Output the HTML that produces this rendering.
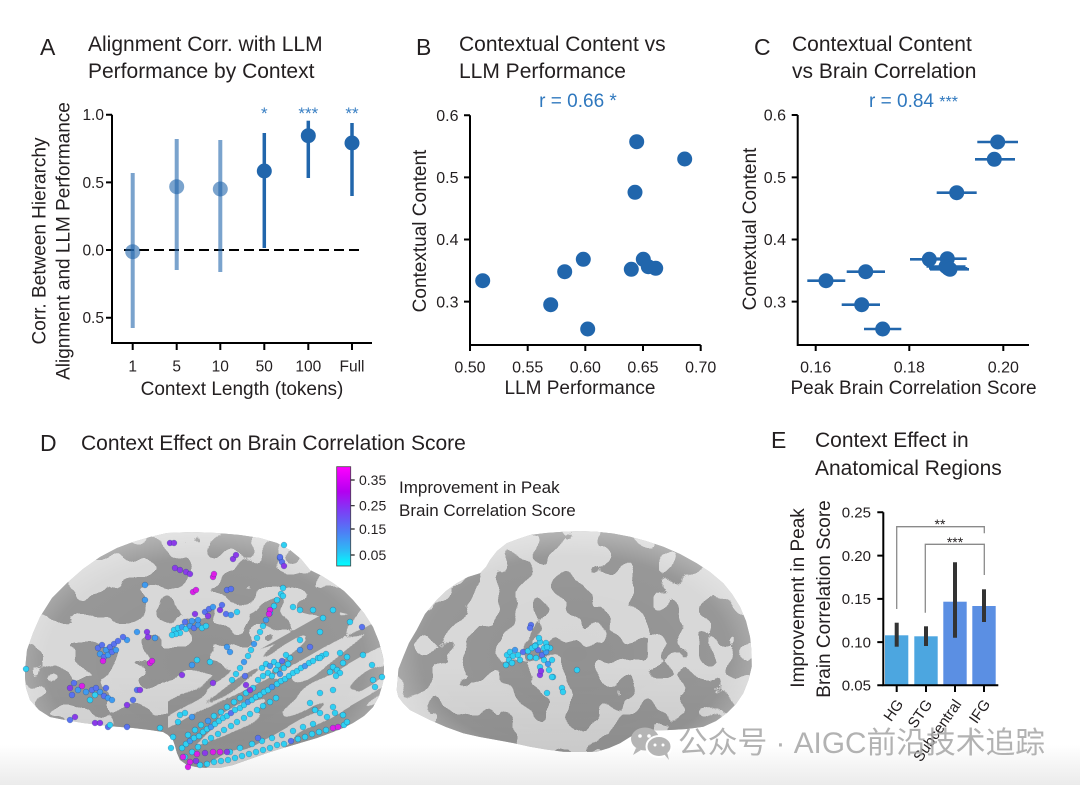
<!DOCTYPE html>
<html><head><meta charset="utf-8"><style>
html,body{margin:0;padding:0;background:#fff;overflow:hidden;width:1080px;height:785px}
svg{display:block}
text{fill:#231f20}
.c{fill:#2fd0f2}.b{fill:#3f9bf0}.m{fill:#5a72ef}.p{fill:#8c3ae8}.g{fill:#dd1ee6}
.dots circle{stroke:rgba(0,50,110,.35);stroke-width:.6}
</style></head><body>
<svg width="1080" height="785" viewBox="0 0 1080 785" font-family="'Liberation Sans', sans-serif">
<defs>
<linearGradient id="band" x1="0" y1="0" x2="0" y2="1"><stop offset="0" stop-color="#fff"/><stop offset="1" stop-color="#ebebeb"/></linearGradient>
<linearGradient id="cbar" x1="0" y1="0" x2="0" y2="1">
<stop offset="0" stop-color="#ff00ff"/><stop offset=".25" stop-color="#b400f0"/><stop offset=".45" stop-color="#7a40f5"/><stop offset=".65" stop-color="#4f7cf5"/><stop offset=".85" stop-color="#2cbdf5"/><stop offset="1" stop-color="#00ffff"/></linearGradient>
<radialGradient id="shade" cx=".5" cy=".55" r=".6"><stop offset="0" stop-color="#fff" stop-opacity="0"/><stop offset=".7" stop-color="#fff" stop-opacity=".06"/><stop offset="1" stop-color="#fff" stop-opacity=".5"/></radialGradient>
<linearGradient id="vshade" x1="0" y1="0" x2="0" y2="1"><stop offset="0" stop-color="#000" stop-opacity="0"/><stop offset=".6" stop-color="#000" stop-opacity="0"/><stop offset="1" stop-color="#000" stop-opacity=".08"/></linearGradient>
<filter id="sulc1" color-interpolation-filters="sRGB">
<feTurbulence type="fractalNoise" baseFrequency="0.028 0.034" numOctaves="2" seed="7"/>
<feColorMatrix type="matrix" values="1 0 0 0 0 1 0 0 0 0 1 0 0 0 0 0 0 0 0 1"/>
<feComponentTransfer><feFuncR type="discrete" tableValues="0.57 0.84"/><feFuncG type="discrete" tableValues="0.57 0.84"/><feFuncB type="discrete" tableValues="0.57 0.84"/></feComponentTransfer>
</filter>
<filter id="sulc2" color-interpolation-filters="sRGB">
<feTurbulence type="fractalNoise" baseFrequency="0.03 0.028" numOctaves="2" seed="21"/>
<feColorMatrix type="matrix" values="1 0 0 0 0 1 0 0 0 0 1 0 0 0 0 0 0 0 0 1"/>
<feComponentTransfer><feFuncR type="discrete" tableValues="0.57 0.84"/><feFuncG type="discrete" tableValues="0.57 0.84"/><feFuncB type="discrete" tableValues="0.57 0.84"/></feComponentTransfer>
</filter>
<filter id="sulc3" x="0" y="0" width="1" height="1" color-interpolation-filters="sRGB">
<feTurbulence type="fractalNoise" baseFrequency="0.012 0.055" numOctaves="2" seed="4"/>
<feColorMatrix type="matrix" values="1 0 0 0 0 1 0 0 0 0 1 0 0 0 0 0 0 0 0 1"/>
<feComponentTransfer><feFuncR type="discrete" tableValues="0.57 0.84"/><feFuncG type="discrete" tableValues="0.57 0.84"/><feFuncB type="discrete" tableValues="0.57 0.84"/></feComponentTransfer>
</filter>
<pattern id="tpat" patternUnits="userSpaceOnUse" x="130" y="630" width="300" height="200" patternTransform="rotate(-30 280 690)">
<rect x="0" y="0" width="300" height="200" filter="url(#sulc3)"/>
</pattern>
<clipPath id="lb"><path d="M25,670 L27,650 L33,633 L40,617 L52,598 L67,583 L83,569 L100,557 L117,548 L133,542 L150,537 L167,533 L192,532 L217,533 L240,535 L260,538 L277,543 L290,550 L301,559 L310,570 L322,576 L333,583 L344,591 L353,600 L364,613 L373,627 L379,642 L383,657 L384,670 L383,683 L379,696 L373,707 L364,716 L353,723 L343,728 L333,732 L317,738 L300,743 L283,748 L267,753 L250,759 L233,765 L220,768 L207,768 L196,767 L187,765 L180,760 L177,753 L175,746 L173,740 L168,735 L163,732 L150,730 L133,728 L108,726 L83,723 L65,720 L50,717 L39,710 L30,700 L26,688 L25,677 Z"/></clipPath>
<clipPath id="rb"><path d="M396.7,690 L398.3,696.7 L403,703 L410,710 L420,715 L430,720 L446,727 L463.3,733.3 L480,737 L496.7,740 L513,743 L530,746.7 L546,749.5 L563.3,751.7 L580,752 L596.7,751.7 L609,748 L620,743.3 L630,737 L640,731.7 L655,730.5 L670,730 L687,729 L703.3,726.7 L716,721 L726.7,713.3 L736,704 L743.3,693.3 L748.5,680 L751.7,666.7 L751.5,651 L750,636.7 L746,621 L740,606.7 L732,594 L723.3,583.3 L710,572 L696.7,563.3 L680,554 L663.3,546.7 L646,541 L630,536.7 L613,533.5 L596.7,531.7 L580,531 L563.3,531.7 L546,533 L530,535 L518,539 L506.7,543.3 L497,551 L490,560 L486,567 L480,573.3 L468,577 L456.7,583.3 L446,591 L436.7,600 L425,614 L416.7,630 L409,643 L403.3,656.7 L398.5,669 Z"/></clipPath>
</defs>

<rect x="0" y="745" width="1080" height="40" fill="url(#band)"/>

<!-- ===== Panel A ===== -->
<text x="40" y="55" font-size="23">A</text>
<text x="88" y="51" font-size="21">Alignment Corr. with LLM</text>
<text x="88" y="78" font-size="21">Performance by Context</text>
<g stroke="#000" stroke-width="2" fill="none">
<path d="M112 114.7 V343 H372"/>
<path d="M106 114.7H112M106 182.4H112M106 250H112M106 317.7H112"/>
<path d="M132.7 343V350M176.7 343V350M220.3 343V350M264.3 343V350M308.3 343V350M352 343V350"/>
</g>
<g font-size="15.5" text-anchor="end">
<text x="104" y="120.2">1.0</text><text x="104" y="187.9">0.5</text><text x="104" y="255.5">0.0</text><text x="104" y="323.2">0.5</text>
</g>
<g font-size="15.5" text-anchor="middle">
<text x="132.7" y="371.5">1</text><text x="176.7" y="371.5">5</text><text x="220.3" y="371.5">10</text><text x="264.3" y="371.5">50</text><text x="308.3" y="371.5">100</text><text x="352" y="371.5">Full</text>
</g>
<line x1="124" y1="250" x2="364" y2="250" stroke="#000" stroke-width="2" stroke-dasharray="10 5"/>
<g stroke="#2166ac" stroke-width="4" stroke-opacity=".6">
<line x1="132.7" y1="173" x2="132.7" y2="328"/><line x1="176.7" y1="139" x2="176.7" y2="270"/><line x1="220.3" y1="140" x2="220.3" y2="272"/>
</g>
<g fill="#2166ac" fill-opacity=".6">
<circle cx="132.7" cy="251.7" r="7.5"/><circle cx="176.7" cy="186.7" r="7.5"/><circle cx="220.3" cy="189" r="7.5"/>
</g>
<g stroke="#2166ac" stroke-width="3.5">
<line x1="264.3" y1="133" x2="264.3" y2="248"/><line x1="308.3" y1="120.7" x2="308.3" y2="178"/><line x1="352" y1="123" x2="352" y2="196"/>
</g>
<g fill="#2166ac">
<circle cx="264.3" cy="171" r="7.5"/><circle cx="308.3" cy="135.7" r="7.5"/><circle cx="352" cy="143" r="7.5"/>
</g>
<g font-size="17" text-anchor="middle">
<text x="264.3" y="119" style="fill:#3a80c4">*</text><text x="308.3" y="119" style="fill:#3a80c4">***</text><text x="352" y="119" style="fill:#3a80c4">**</text>
</g>
<text transform="translate(45.5,241) rotate(-90)" text-anchor="middle" font-size="19">Corr. Between Hierarchy</text>
<text transform="translate(69.5,241) rotate(-90)" text-anchor="middle" font-size="19">Alignment and LLM Performance</text>
<text x="242" y="395" text-anchor="middle" font-size="19">Context Length (tokens)</text>

<!-- ===== Panel B ===== -->
<text x="416" y="55" font-size="23">B</text>
<text x="459" y="51" font-size="21">Contextual Content vs</text>
<text x="459" y="78" font-size="21">LLM Performance</text>
<text x="578" y="107" text-anchor="middle" font-size="19" style="fill:#2f78be">r = 0.66 *</text>
<g stroke="#000" stroke-width="2" fill="none">
<path d="M470 115.3 V345 H700.7"/>
<path d="M464 115.3H470M464 177.4H470M464 239.5H470M464 301.6H470"/>
<path d="M470 345V351M527.7 345V351M585.3 345V351M643 345V351M700.7 345V351"/>
</g>
<g font-size="16" text-anchor="end">
<text x="458.5" y="121">0.6</text><text x="458.5" y="183.1">0.5</text><text x="458.5" y="245.2">0.4</text><text x="458.5" y="307.3">0.3</text>
</g>
<g font-size="16" text-anchor="middle">
<text x="470" y="372.5">0.50</text><text x="527.7" y="372.5">0.55</text><text x="585.3" y="372.5">0.60</text><text x="643" y="372.5">0.65</text><text x="700.7" y="372.5">0.70</text>
</g>
<g fill="#2166ac">
<circle cx="636.7" cy="141.7" r="7.5"/><circle cx="684.7" cy="159" r="7.5"/><circle cx="635" cy="192.3" r="7.5"/>
<circle cx="482.7" cy="280.7" r="7.5"/><circle cx="550.7" cy="304.7" r="7.5"/><circle cx="564.7" cy="271.7" r="7.5"/>
<circle cx="583.3" cy="259.3" r="7.5"/><circle cx="587.7" cy="329" r="7.5"/><circle cx="631.3" cy="269.3" r="7.5"/>
<circle cx="643.3" cy="259.3" r="7.5"/><circle cx="648.3" cy="266.7" r="7.5"/><circle cx="655.7" cy="268.3" r="7.5"/>
</g>
<text transform="translate(426,231) rotate(-90)" text-anchor="middle" font-size="19">Contextual Content</text>
<text x="580" y="394" text-anchor="middle" font-size="19">LLM Performance</text>

<!-- ===== Panel C ===== -->
<text x="754" y="55" font-size="23">C</text>
<text x="792" y="51" font-size="21">Contextual Content</text>
<text x="792" y="78" font-size="21">vs Brain Correlation</text>
<text x="913.5" y="107" text-anchor="middle" font-size="19" style="fill:#2f78be">r = 0.84 <tspan font-size="16" style="fill:#2f78be">***</tspan></text>
<g stroke="#000" stroke-width="2" fill="none">
<path d="M797.7 115 V345 H1029"/>
<path d="M791.7 115H797.7M791.7 177.4H797.7M791.7 239.5H797.7M791.7 301.6H797.7"/>
<path d="M815.7 345V351M909.3 345V351M1003.3 345V351"/>
</g>
<g font-size="16" text-anchor="end">
<text x="786" y="120.7">0.6</text><text x="786" y="183.1">0.5</text><text x="786" y="245.2">0.4</text><text x="786" y="307.3">0.3</text>
</g>
<g font-size="16" text-anchor="middle">
<text x="815.7" y="372.5">0.16</text><text x="909.3" y="372.5">0.18</text><text x="1003.3" y="372.5">0.20</text>
</g>
<g stroke="#2166ac" stroke-width="2.6">
<line x1="977.3" y1="142" x2="1018" y2="142"/><line x1="975" y1="159.3" x2="1015" y2="159.3"/><line x1="936.7" y1="192.7" x2="976.7" y2="192.7"/>
<line x1="807.3" y1="280.7" x2="845.3" y2="280.7"/><line x1="846.7" y1="271.7" x2="885" y2="271.7"/><line x1="841.7" y1="304.7" x2="880" y2="304.7"/>
<line x1="864" y1="329" x2="901.3" y2="329"/><line x1="910" y1="259.3" x2="948.3" y2="259.3"/><line x1="928.3" y1="258.7" x2="966.7" y2="258.7"/>
<line x1="929" y1="268.3" x2="967.3" y2="268.3"/><line x1="926.5" y1="266.5" x2="965.5" y2="266.5"/><line x1="930" y1="269.3" x2="969" y2="269.3"/>
</g>
<g fill="#2166ac">
<circle cx="997.7" cy="142" r="7.5"/><circle cx="994.3" cy="159.3" r="7.5"/><circle cx="956.7" cy="192.7" r="7.5"/>
<circle cx="826" cy="280.7" r="7.5"/><circle cx="865.7" cy="271.7" r="7.5"/><circle cx="861.7" cy="304.7" r="7.5"/>
<circle cx="882.7" cy="329" r="7.5"/><circle cx="929.3" cy="259.3" r="7.5"/><circle cx="947.3" cy="258.7" r="7.5"/>
<circle cx="948.3" cy="268.3" r="7.5"/><circle cx="946" cy="266.5" r="7.5"/><circle cx="950" cy="269.3" r="7.5"/>
</g>
<text transform="translate(756,229) rotate(-90)" text-anchor="middle" font-size="19">Contextual Content</text>
<text x="913.5" y="394" text-anchor="middle" font-size="19">Peak Brain Correlation Score</text>

<!-- ===== Panel D ===== -->
<text x="40" y="451" font-size="23">D</text>
<text x="81" y="450" font-size="21">Context Effect on Brain Correlation Score</text>

<g clip-path="url(#lb)">
<rect x="15" y="525" width="380" height="250" fill="#b5b5b5"/>
<rect x="15" y="525" width="380" height="250" filter="url(#sulc1)"/>
<path d="M168,772 L168,700 L250,655 L330,610 L395,625 L395,772 Z" fill="url(#tpat)"/>
<rect x="15" y="525" width="380" height="250" fill="url(#vshade)"/>
<rect x="15" y="525" width="380" height="250" fill="url(#shade)"/>
</g>
<g clip-path="url(#rb)">
<rect x="390" y="525" width="370" height="235" fill="#b5b5b5"/>
<rect x="390" y="525" width="370" height="235" filter="url(#sulc2)"/>
<rect x="390" y="525" width="370" height="235" fill="url(#vshade)"/>
<rect x="390" y="525" width="370" height="235" fill="url(#shade)"/>
</g>

<g class="dots">
<circle class="c" cx="182" cy="748" r="2.9"/><circle class="c" cx="186" cy="744" r="2.9"/><circle class="b" cx="190" cy="741" r="2.9"/><circle class="c" cx="194" cy="738" r="2.9"/><circle class="c" cx="199" cy="736" r="2.9"/><circle class="c" cx="203" cy="732" r="2.9"/><circle class="c" cx="207" cy="729" r="2.9"/><circle class="b" cx="211" cy="727" r="2.9"/><circle class="c" cx="215" cy="724" r="2.9"/><circle class="c" cx="219" cy="721" r="2.9"/><circle class="c" cx="223" cy="718" r="2.9"/><circle class="c" cx="227" cy="716" r="2.9"/><circle class="m" cx="231" cy="713" r="2.9"/><circle class="c" cx="235" cy="710" r="2.9"/><circle class="c" cx="240" cy="708" r="2.9"/><circle class="c" cx="244" cy="705" r="2.9"/><circle class="b" cx="248" cy="702" r="2.9"/><circle class="c" cx="252" cy="700" r="2.9"/><circle class="c" cx="256" cy="697" r="2.9"/><circle class="c" cx="260" cy="695" r="2.9"/><circle class="c" cx="264" cy="692" r="2.9"/><circle class="c" cx="268" cy="690" r="2.9"/><circle class="b" cx="272" cy="687" r="2.9"/><circle class="c" cx="277" cy="684" r="2.9"/><circle class="c" cx="281" cy="681" r="2.9"/><circle class="c" cx="285" cy="679" r="2.9"/><circle class="c" cx="289" cy="676" r="2.9"/><circle class="c" cx="293" cy="673" r="2.9"/><circle class="c" cx="297" cy="671" r="2.9"/><circle class="c" cx="301" cy="668" r="2.9"/><circle class="b" cx="305" cy="666" r="2.9"/><circle class="c" cx="309" cy="663" r="2.9"/><circle class="c" cx="313" cy="661" r="2.9"/><circle class="c" cx="318" cy="658" r="2.9"/><circle class="c" cx="322" cy="656" r="2.9"/><circle class="c" cx="326" cy="654" r="2.9"/>
<circle class="c" cx="185" cy="757" r="2.9"/><circle class="c" cx="192" cy="752" r="2.9"/><circle class="c" cx="198" cy="747" r="2.9"/><circle class="c" cx="205" cy="742" r="2.9"/><circle class="c" cx="211" cy="738" r="2.9"/><circle class="c" cx="218" cy="734" r="2.9"/><circle class="c" cx="224" cy="730" r="2.9"/><circle class="c" cx="231" cy="726" r="2.9"/><circle class="c" cx="237" cy="722" r="2.9"/><circle class="c" cx="244" cy="718" r="2.9"/><circle class="c" cx="250" cy="714" r="2.9"/><circle class="c" cx="257" cy="710" r="2.9"/><circle class="c" cx="263" cy="706" r="2.9"/><circle class="c" cx="270" cy="702" r="2.9"/><circle class="c" cx="276" cy="698" r="2.9"/>
<circle class="c" cx="188" cy="735" r="2.9"/><circle class="c" cx="195" cy="730" r="2.9"/><circle class="c" cx="201" cy="725" r="2.9"/><circle class="b" cx="208" cy="721" r="2.9"/><circle class="c" cx="214" cy="716" r="2.9"/><circle class="c" cx="221" cy="712" r="2.9"/><circle class="c" cx="227" cy="707" r="2.9"/><circle class="c" cx="234" cy="702" r="2.9"/><circle class="c" cx="240" cy="698" r="2.9"/><circle class="c" cx="246" cy="693" r="2.9"/><circle class="c" cx="253" cy="688" r="2.9"/>
<circle class="c" cx="200" cy="765" r="2.9"/><circle class="c" cx="207" cy="764" r="2.9"/><circle class="c" cx="214" cy="762" r="2.9"/><circle class="c" cx="221" cy="761" r="2.9"/><circle class="c" cx="228" cy="760" r="2.9"/><circle class="c" cx="235" cy="758" r="2.9"/><circle class="c" cx="242" cy="756" r="2.9"/><circle class="c" cx="249" cy="754" r="2.9"/><circle class="c" cx="256" cy="752" r="2.9"/><circle class="c" cx="263" cy="750" r="2.9"/><circle class="c" cx="270" cy="748" r="2.9"/><circle class="c" cx="277" cy="745" r="2.9"/><circle class="c" cx="284" cy="744" r="2.9"/><circle class="m" cx="291" cy="741" r="2.9"/><circle class="c" cx="298" cy="739" r="2.9"/><circle class="c" cx="305" cy="737" r="2.9"/><circle class="c" cx="312" cy="734" r="2.9"/><circle class="c" cx="319" cy="732" r="2.9"/><circle class="c" cx="326" cy="730" r="2.9"/><circle class="g" cx="333" cy="728" r="2.9"/><circle class="g" cx="338" cy="727" r="2.9"/><circle class="c" cx="344" cy="725" r="2.9"/>
<circle class="c" cx="240" cy="748" r="2.9"/><circle class="c" cx="252" cy="744" r="2.9"/><circle class="c" cx="262" cy="741" r="2.9"/><circle class="c" cx="272" cy="738" r="2.9"/><circle class="c" cx="282" cy="735" r="2.9"/><circle class="c" cx="293" cy="731" r="2.9"/><circle class="c" cx="303" cy="727" r="2.9"/><circle class="c" cx="313" cy="724" r="2.9"/><circle class="m" cx="258" cy="738" r="2.9"/><circle class="c" cx="230" cy="752" r="2.9"/>
<circle class="g" cx="183" cy="757" r="2.9"/><circle class="g" cx="190" cy="762" r="2.9"/><circle class="g" cx="197" cy="754" r="2.9"/><circle class="p" cx="205" cy="753" r="2.9"/><circle class="g" cx="213" cy="752" r="2.9"/><circle class="g" cx="220" cy="752" r="2.9"/><circle class="p" cx="227" cy="752" r="2.9"/><circle class="g" cx="188" cy="767" r="2.9"/><circle class="p" cx="196" cy="761" r="2.9"/>
<circle class="c" cx="262" cy="668" r="2.9"/><circle class="c" cx="266" cy="664" r="2.9"/><circle class="b" cx="270" cy="666" r="2.9"/><circle class="c" cx="274" cy="662" r="2.9"/><circle class="c" cx="278" cy="665" r="2.9"/><circle class="m" cx="282" cy="661" r="2.9"/><circle class="c" cx="276" cy="670" r="2.9"/><circle class="c" cx="268" cy="673" r="2.9"/><circle class="c" cx="284" cy="668" r="2.9"/><circle class="c" cx="288" cy="664" r="2.9"/><circle class="b" cx="280" cy="674" r="2.9"/><circle class="c" cx="272" cy="676" r="2.9"/><circle class="c" cx="290" cy="658" r="2.9"/><circle class="c" cx="286" cy="655" r="2.9"/><circle class="c" cx="263" cy="676" r="2.9"/><circle class="c" cx="258" cy="680" r="2.9"/>
<circle class="c" cx="232" cy="680" r="2.9"/><circle class="c" cx="236" cy="674" r="2.9"/><circle class="c" cx="240" cy="668" r="2.9"/><circle class="b" cx="244" cy="662" r="2.9"/><circle class="c" cx="248" cy="656" r="2.9"/><circle class="c" cx="251" cy="650" r="2.9"/><circle class="b" cx="254" cy="644" r="2.9"/><circle class="c" cx="257" cy="638" r="2.9"/><circle class="c" cx="260" cy="632" r="2.9"/><circle class="c" cx="263" cy="626" r="2.9"/><circle class="b" cx="266" cy="620" r="2.9"/><circle class="c" cx="270" cy="613" r="2.9"/><circle class="c" cx="274" cy="606" r="2.9"/><circle class="c" cx="277" cy="600" r="2.9"/><circle class="c" cx="281" cy="594" r="2.9"/><circle class="c" cx="283" cy="588" r="2.9"/><circle class="m" cx="245" cy="676" r="2.9"/><circle class="p" cx="250" cy="690" r="2.9"/><circle class="p" cx="246" cy="685" r="2.9"/>
<circle class="c" cx="174" cy="630" r="2.9"/><circle class="c" cx="178" cy="628" r="2.9"/><circle class="b" cx="182" cy="627" r="2.9"/><circle class="c" cx="186" cy="629" r="2.9"/><circle class="b" cx="190" cy="626" r="2.9"/><circle class="m" cx="194" cy="628" r="2.9"/><circle class="b" cx="198" cy="625" r="2.9"/><circle class="c" cx="202" cy="628" r="2.9"/><circle class="c" cx="206" cy="626" r="2.9"/><circle class="m" cx="185" cy="622" r="2.9"/><circle class="b" cx="192" cy="621" r="2.9"/><circle class="b" cx="198" cy="620" r="2.9"/><circle class="c" cx="180" cy="633" r="2.9"/><circle class="c" cx="176" cy="634" r="2.9"/><circle class="c" cx="172" cy="635" r="2.9"/>
<circle class="m" cx="205" cy="612" r="2.9"/><circle class="m" cx="209" cy="609" r="2.9"/><circle class="b" cx="213" cy="607" r="2.9"/><circle class="p" cx="208" cy="616" r="2.9"/><circle class="p" cx="220" cy="610" r="2.9"/><circle class="m" cx="226" cy="614" r="2.9"/><circle class="b" cx="231" cy="615" r="2.9"/><circle class="c" cx="237" cy="612" r="2.9"/><circle class="m" cx="222" cy="605" r="2.9"/><circle class="p" cx="195" cy="614" r="2.9"/>
<circle class="p" cx="170" cy="543" r="2.9"/><circle class="p" cx="174" cy="543" r="2.9"/><circle class="p" cx="175" cy="568" r="2.9"/><circle class="p" cx="180" cy="570" r="2.9"/><circle class="p" cx="186" cy="572" r="2.9"/><circle class="p" cx="190" cy="574" r="2.9"/><circle class="g" cx="193" cy="592" r="2.9"/><circle class="g" cx="196" cy="590" r="2.9"/><circle class="g" cx="213" cy="577" r="2.9"/><circle class="g" cx="214" cy="574" r="2.9"/><circle class="p" cx="233" cy="559" r="2.9"/><circle class="p" cx="236" cy="555" r="2.9"/><circle class="m" cx="227" cy="590" r="2.9"/><circle class="m" cx="231" cy="589" r="2.9"/><circle class="g" cx="270" cy="610" r="2.9"/><circle class="g" cx="269" cy="614" r="2.9"/><circle class="m" cx="280" cy="558" r="2.9"/><circle class="m" cx="282" cy="562" r="2.9"/><circle class="p" cx="284" cy="566" r="2.9"/><circle class="c" cx="284" cy="545" r="2.9"/><circle class="b" cx="145" cy="585" r="2.9"/><circle class="b" cx="145" cy="600" r="2.9"/>
<circle class="b" cx="127" cy="640" r="2.9"/><circle class="b" cx="137" cy="632" r="2.9"/><circle class="p" cx="147" cy="632" r="2.9"/><circle class="p" cx="148" cy="637" r="2.9"/><circle class="b" cx="155" cy="638" r="2.9"/><circle class="g" cx="150" cy="663" r="2.9"/><circle class="g" cx="152" cy="661" r="2.9"/>
<circle class="m" cx="98" cy="648" r="2.9"/><circle class="m" cx="102" cy="645" r="2.9"/><circle class="b" cx="106" cy="650" r="2.9"/><circle class="m" cx="110" cy="647" r="2.9"/><circle class="m" cx="114" cy="644" r="2.9"/><circle class="b" cx="100" cy="654" r="2.9"/><circle class="m" cx="104" cy="657" r="2.9"/><circle class="b" cx="108" cy="655" r="2.9"/><circle class="m" cx="112" cy="652" r="2.9"/><circle class="b" cx="116" cy="650" r="2.9"/><circle class="g" cx="103" cy="661" r="2.9"/><circle class="m" cx="118" cy="641" r="2.9"/><circle class="m" cx="123" cy="637" r="2.9"/>
<circle class="p" cx="70" cy="688" r="2.9"/><circle class="m" cx="74" cy="683" r="2.9"/><circle class="b" cx="78" cy="690" r="2.9"/><circle class="g" cx="82" cy="686" r="2.9"/><circle class="b" cx="86" cy="692" r="2.9"/><circle class="m" cx="92" cy="690" r="2.9"/><circle class="c" cx="95" cy="695" r="2.9"/><circle class="b" cx="100" cy="692" r="2.9"/><circle class="m" cx="104" cy="696" r="2.9"/><circle class="b" cx="108" cy="698" r="2.9"/><circle class="b" cx="112" cy="700" r="2.9"/><circle class="m" cx="72" cy="695" r="2.9"/><circle class="c" cx="90" cy="700" r="2.9"/><circle class="m" cx="96" cy="688" r="2.9"/><circle class="m" cx="106" cy="688" r="2.9"/>
<circle class="m" cx="70" cy="720" r="2.9"/><circle class="p" cx="75" cy="717" r="2.9"/><circle class="p" cx="95" cy="723" r="2.9"/><circle class="p" cx="100" cy="723" r="2.9"/><circle class="m" cx="108" cy="727" r="2.9"/><circle class="m" cx="127" cy="727" r="2.9"/><circle class="c" cx="26" cy="669" r="2.9"/><circle class="m" cx="133" cy="700" r="2.9"/><circle class="m" cx="137" cy="690" r="2.9"/><circle class="p" cx="127" cy="705" r="2.9"/><circle class="p" cx="140" cy="690" r="2.9"/><circle class="c" cx="160" cy="728" r="2.9"/><circle class="c" cx="110" cy="725" r="2.9"/>
<circle class="c" cx="333" cy="610" r="2.9"/><circle class="c" cx="323" cy="618" r="2.9"/><circle class="c" cx="350" cy="622" r="2.9"/><circle class="m" cx="362" cy="627" r="2.9"/><circle class="c" cx="363" cy="655" r="2.9"/><circle class="c" cx="372" cy="665" r="2.9"/><circle class="c" cx="382" cy="677" r="2.9"/><circle class="c" cx="373" cy="680" r="2.9"/><circle class="c" cx="375" cy="687" r="2.9"/><circle class="c" cx="347" cy="657" r="2.9"/><circle class="c" cx="340" cy="653" r="2.9"/><circle class="c" cx="333" cy="667" r="2.9"/><circle class="c" cx="337" cy="670" r="2.9"/><circle class="c" cx="340" cy="673" r="2.9"/><circle class="c" cx="343" cy="663" r="2.9"/><circle class="c" cx="336" cy="676" r="2.9"/><circle class="c" cx="330" cy="672" r="2.9"/><circle class="c" cx="320" cy="658" r="2.9"/><circle class="c" cx="333" cy="690" r="2.9"/><circle class="c" cx="320" cy="693" r="2.9"/><circle class="c" cx="310" cy="703" r="2.9"/><circle class="c" cx="315" cy="710" r="2.9"/><circle class="c" cx="333" cy="707" r="2.9"/><circle class="c" cx="320" cy="713" r="2.9"/><circle class="c" cx="327" cy="717" r="2.9"/><circle class="c" cx="335" cy="713" r="2.9"/><circle class="c" cx="343" cy="715" r="2.9"/><circle class="c" cx="347" cy="722" r="2.9"/><circle class="m" cx="280" cy="557" r="2.9"/><circle class="c" cx="293" cy="607" r="2.9"/><circle class="c" cx="300" cy="610" r="2.9"/><circle class="c" cx="313" cy="610" r="2.9"/><circle class="c" cx="320" cy="632" r="2.9"/><circle class="c" cx="300" cy="640" r="2.9"/><circle class="m" cx="310" cy="647" r="2.9"/><circle class="b" cx="300" cy="650" r="2.9"/><circle class="c" cx="283" cy="596" r="2.9"/>
<circle class="c" cx="210" cy="662" r="2.9"/><circle class="b" cx="227" cy="647" r="2.9"/><circle class="b" cx="230" cy="652" r="2.9"/><circle class="p" cx="213" cy="683" r="2.9"/><circle class="p" cx="182" cy="675" r="2.9"/><circle class="b" cx="192" cy="665" r="2.9"/><circle class="c" cx="197" cy="660" r="2.9"/><circle class="c" cx="180" cy="715" r="2.9"/><circle class="c" cx="185" cy="713" r="2.9"/><circle class="c" cx="173" cy="737" r="2.9"/><circle class="b" cx="192" cy="717" r="2.9"/><circle class="c" cx="178" cy="722" r="2.9"/><circle class="c" cx="171" cy="748" r="2.9"/>
<circle class="c" cx="507" cy="655" r="2.9"/><circle class="c" cx="510" cy="652" r="2.9"/><circle class="c" cx="513" cy="656" r="2.9"/><circle class="c" cx="509" cy="660" r="2.9"/><circle class="b" cx="515" cy="650" r="2.9"/><circle class="c" cx="518" cy="655" r="2.9"/><circle class="c" cx="512" cy="663" r="2.9"/><circle class="c" cx="506" cy="665" r="2.9"/><circle class="c" cx="520" cy="660" r="2.9"/><circle class="m" cx="523" cy="652" r="2.9"/><circle class="c" cx="528" cy="651" r="2.9"/><circle class="c" cx="532" cy="648" r="2.9"/><circle class="c" cx="536" cy="645" r="2.9"/><circle class="c" cx="540" cy="642" r="2.9"/><circle class="m" cx="538" cy="650" r="2.9"/><circle class="m" cx="542" cy="655" r="2.9"/><circle class="b" cx="546" cy="652" r="2.9"/><circle class="c" cx="544" cy="660" r="2.9"/><circle class="b" cx="548" cy="664" r="2.9"/><circle class="c" cx="540" cy="667" r="2.9"/><circle class="c" cx="536" cy="658" r="2.9"/><circle class="c" cx="530" cy="657" r="2.9"/><circle class="p" cx="540" cy="675" r="2.9"/><circle class="p" cx="541" cy="671" r="2.9"/><circle class="c" cx="550" cy="648" r="2.9"/><circle class="c" cx="546" cy="643" r="2.9"/><circle class="c" cx="552" cy="660" r="2.9"/><circle class="c" cx="549" cy="670" r="2.9"/><circle class="c" cx="553" cy="677" r="2.9"/><circle class="c" cx="544" cy="648" r="2.9"/><circle class="c" cx="539" cy="638" r="2.9"/><circle class="m" cx="531" cy="625" r="2.9"/><circle class="m" cx="530" cy="628" r="2.9"/><circle class="c" cx="577" cy="670" r="2.9"/><circle class="c" cx="547" cy="693" r="2.9"/><circle class="c" cx="562" cy="688" r="2.9"/><circle class="c" cx="563" cy="692" r="2.9"/><circle class="c" cx="552" cy="677" r="2.9"/><circle class="c" cx="535" cy="646" r="2.9"/><circle class="c" cx="547" cy="647" r="2.9"/>
</g>

<!-- colorbar -->
<rect x="336.7" y="466.7" width="14" height="99.3" fill="url(#cbar)" stroke="#444" stroke-width=".8"/>
<g stroke="#222" stroke-width="1.2"><path d="M350.7 480H354.7M350.7 505.7H354.7M350.7 529H354.7M350.7 555H354.7"/></g>
<g font-size="14">
<text x="359" y="485">0.35</text><text x="359" y="510.7">0.25</text><text x="359" y="534">0.15</text><text x="359" y="560">0.05</text>
</g>
<text x="399" y="493" font-size="17">Improvement in Peak</text>
<text x="399" y="516" font-size="17">Brain Correlation Score</text>

<!-- ===== Panel E ===== -->
<text x="771" y="448" font-size="23">E</text>
<text x="815" y="447" font-size="21">Context Effect in</text>
<text x="815" y="475" font-size="21">Anatomical Regions</text>
<rect x="885" y="635.3" width="23.3" height="50" fill="#4ca6e0"/>
<rect x="914.3" y="636.3" width="23.4" height="49" fill="#4ca6e0"/>
<rect x="943.3" y="601.7" width="23.4" height="83.6" fill="#5b8fe3"/>
<rect x="972.3" y="606" width="23.4" height="79.3" fill="#5b8fe3"/>
<g stroke="#333" stroke-width="4">
<line x1="896.7" y1="622.7" x2="896.7" y2="646.7"/><line x1="926" y1="626.3" x2="926" y2="646"/><line x1="955" y1="562.3" x2="955" y2="637.7"/><line x1="984" y1="589.3" x2="984" y2="622"/>
</g>
<g stroke="#8a8a8a" stroke-width="1.3" fill="none">
<path d="M896.7 609 V526.7 H984.3 V533.3"/>
<path d="M925.3 612.7 V544.3 H984.3 V575"/>
</g>
<text x="940" y="529" font-size="14" text-anchor="middle">**</text>
<text x="955" y="547" font-size="14" text-anchor="middle">***</text>
<g stroke="#000" stroke-width="2" fill="none">
<path d="M883.3 512.3 V685.3 H998.3"/>
<path d="M877.3 512.3H883.3M877.3 555.6H883.3M877.3 598.9H883.3M877.3 642.1H883.3M877.3 685.3H883.3"/>
<path d="M896.7 685.3V692M926 685.3V692M955 685.3V692M984 685.3V692"/>
</g>
<g font-size="15" text-anchor="end">
<text x="871" y="517.5">0.25</text><text x="871" y="560.8">0.20</text><text x="871" y="604.1">0.15</text><text x="871" y="647.3">0.10</text><text x="871" y="690.5">0.05</text>
</g>
<g font-size="15" text-anchor="end">
<text transform="translate(904,704) rotate(-55)">HG</text>
<text transform="translate(933,704) rotate(-55)">STG</text>
<text transform="translate(962,704) rotate(-55)">Subcentral</text>
<text transform="translate(991,704) rotate(-55)">IFG</text>
</g>
<text transform="translate(804,598) rotate(-90)" text-anchor="middle" font-size="19">Improvement in Peak</text>
<text transform="translate(830,599) rotate(-90)" text-anchor="middle" font-size="19">Brain Correlation Score</text>

<!-- watermark -->
<g fill="#b5b5b5">
<ellipse cx="645" cy="739" rx="14" ry="11.5"/>
<path d="M636 748 L633 755 L641 750 Z"/>
<ellipse cx="659" cy="746.5" rx="12.5" ry="10.5" stroke="#fff" stroke-width="2"/>
<path d="M664 754 L669 760 L667 752 Z"/>
</g>
<g fill="#fff"><circle cx="640" cy="736" r="1.8"/><circle cx="649" cy="736" r="1.8"/><circle cx="655" cy="745" r="1.5"/><circle cx="663" cy="745" r="1.5"/></g>
<text x="678" y="753" font-size="30" textLength="367" lengthAdjust="spacingAndGlyphs" style="fill:#a5a5a5;fill-opacity:.85" font-family="'Liberation Sans','Noto Sans CJK SC',sans-serif">公众号 · AIGC前沿技术追踪</text>
</svg>
</body></html>
